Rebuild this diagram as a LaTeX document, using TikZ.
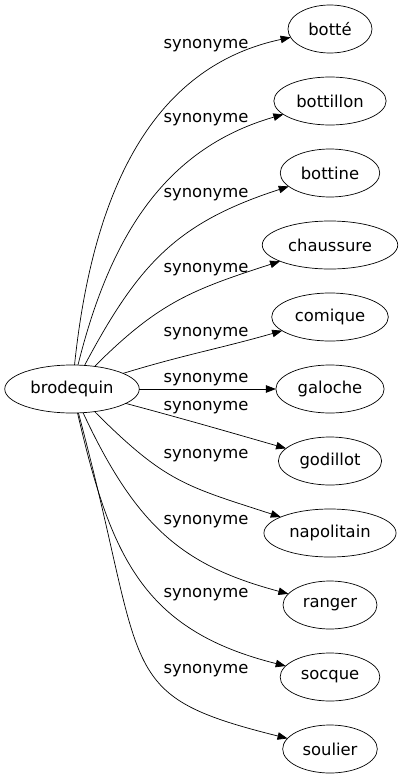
\documentclass[tikz,border=0pt]{standalone}
\usepackage{fontspec}
\setmainfont{DejaVu Sans}
\usepackage{tikz}
\usetikzlibrary{shapes.geometric, arrows.meta, positioning}

\begin{document}
\begin{tikzpicture}  [
        x = 1pt, y = 1pt,
        node distance = 24pt,
        word/.style = {ellipse, draw, line width = 0.7pt, inner xsep = 6pt, inner ysep = 3pt,
                       minimum height = 48pt, minimum width = 84pt, outer sep = 0pt,
                       font = \fontsize{16.4}{20}\selectfont},
        rel/.style  = {anchor = base, inner sep = 0pt, font = \fontsize{16.4}{20}\selectfont},
        line width = 0.7pt,
        -{Triangle[length = 10pt, width = 7.5pt]}
    ]
    \useasboundingbox (0,0) rectangle (402,-779);

    \node[word] (brodequin) at (72,-389) {brodequin};
    \node[word] (botte)     at (330,-29) {botté};
    \node[word, below = of botte]      (bottillon)  {bottillon};
    \node[word, below = of bottillon]  (bottine)    {bottine};
    \node[word, below = of bottine]    (chaussure)  {chaussure};
    \node[word, below = of chaussure]  (comique)    {comique};
    \node[word, below = of comique]    (galoche)    {galoche};
    \node[word, below = of galoche]    (godillot)   {godillot};
    \node[word, below = of godillot]   (napolitain) {napolitain};
    \node[word, below = of napolitain] (ranger)     {ranger};
    \node[word, below = of ranger]     (socque)     {socque};
    \node[word, below = of socque]     (soulier)    {soulier};

    \node[rel] (s1)  at (206,-48.2) {synonyme};
    \node[rel] (s2)  at (206,-122.8) {synonyme};
    \node[rel] (s3)  at (206,-197.8) {synonyme};
    \node[rel] (s4)  at (206,-272.2) {synonyme};
    \node[rel] (s5)  at (206,-336.8) {synonyme};
    \node[rel] (s6)  at (206,-382.8) {synonyme};
    \node[rel] (s7)  at (206,-410.5) {synonyme};
    \node[rel] (s8)  at (206,-458.5) {synonyme};
    \node[rel] (s9)  at (206,-524.5) {synonyme};
    \node[rel] (s10) at (206,-597.8) {synonyme};
    \node[rel] (s11) at (206,-673.8) {synonyme};

    \draw (brodequin) to[out=84,  in=192] (botte);
    \draw (brodequin) to[out=76,  in=196] (bottillon);
    \draw (brodequin) to[out=62,  in=198, looseness=1.1] (bottine);
    \draw (brodequin) to[out=45,  in=198, looseness=1.1] (chaussure);
    \draw (brodequin) to[out=17,  in=196] (comique);
    \draw (brodequin) -- (galoche);
    \draw (brodequin) to[out=-15, in=164] (godillot);
    \draw (brodequin) to[out=-45, in=162, looseness=1.2] (napolitain);
    \draw (brodequin) to[out=-65, in=165, out looseness=1.2] (ranger);
    \draw (brodequin) to[out=-77, in=166, looseness=1.15] (socque);
    \draw (brodequin) to[out=-75, in=166, out looseness=1.8, in looseness=1.2] (soulier);

\end{tikzpicture}
\end{document}
